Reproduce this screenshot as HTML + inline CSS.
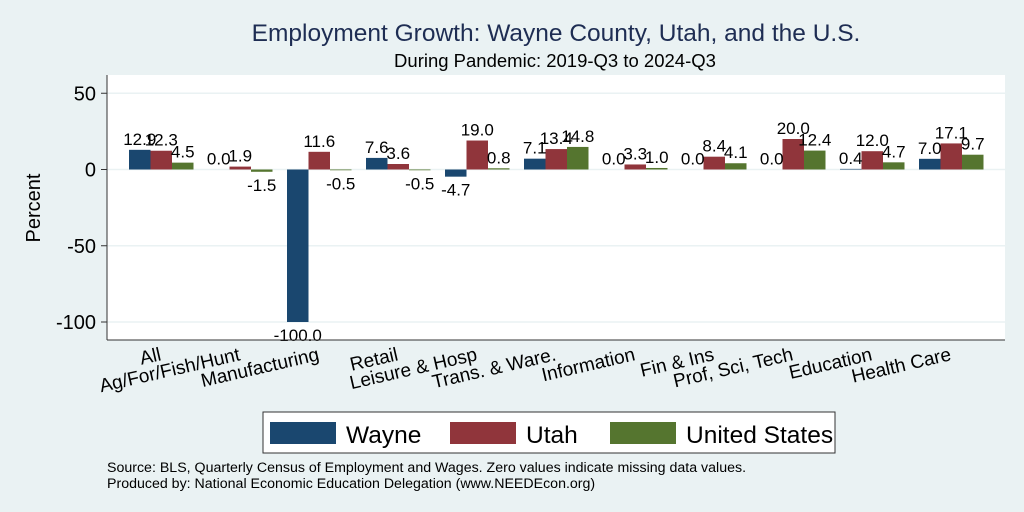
<!DOCTYPE html>
<html><head><meta charset="utf-8"><style>
body{margin:0;background:#eaf2f3;}
svg{display:block;font-family:"Liberation Sans",sans-serif;}
</style></head><body>
<svg id="c" width="1024" height="512" viewBox="0 0 1024 512">
<rect x="0" y="0" width="1024" height="512" fill="#eaf2f3"/>
<text x="556" y="41" font-size="24.5" fill="#1e2d53" text-anchor="middle">Employment Growth: Wayne County, Utah, and the U.S.</text>
<text x="555" y="67" font-size="18.5" fill="#000" text-anchor="middle">During Pandemic: 2019-Q3 to 2024-Q3</text>
<rect x="107" y="75" width="898" height="265" fill="#fff"/>
<g id="grid"></g>
<g id="bars"></g>
<g id="vals"></g>
<line x1="107" y1="75" x2="107" y2="340" stroke="#333" stroke-width="1"/>
<line x1="107" y1="340" x2="1005" y2="340" stroke="#333" stroke-width="1"/>
<g id="xl"></g>
<text transform="translate(40,208) rotate(-90)" font-size="20" text-anchor="middle">Percent</text>
<g>
<rect x="263" y="412" width="572" height="41" fill="#fff" stroke="#333" stroke-width="1"/>
<rect x="270" y="422" width="66" height="22" fill="#1a476f"/>
<text x="346" y="443" font-size="24.5">Wayne</text>
<rect x="450" y="422" width="66" height="22" fill="#90353b"/>
<text x="526" y="443" font-size="24.5">Utah</text>
<rect x="610" y="422" width="66" height="22" fill="#55752f"/>
<text x="686" y="443" font-size="24.5">United States</text>
</g>
<text x="107" y="472" font-size="14.2">Source: BLS, Quarterly Census of Employment and Wages. Zero values indicate missing data values.</text>
<text x="107" y="488" font-size="14.2">Produced by: National Economic Education Delegation (www.NEEDEcon.org)</text>
</svg>
<script>
const categories=["All","Ag/For/Fish/Hunt","Manufacturing","Retail","Leisure & Hosp","Trans. & Ware.","Information","Fin & Ins","Prof, Sci, Tech","Education","Health Care"];
const wayne=[12.9,0.0,-100.0,7.6,-4.7,7.1,0.0,0.0,0.0,0.4,7.0];
const utah=[12.3,1.9,11.6,3.6,19.0,13.4,3.3,8.4,20.0,12.0,17.1];
const us=[4.5,-1.5,-0.5,-0.5,0.8,14.8,1.0,4.1,12.4,4.7,9.7];
const yTicks=[50,0,-50,-100];
const seriesNames=["wayne","utah","us"];
const colors=["#1a476f","#90353b","#55752f"];
const NS="http://www.w3.org/2000/svg";
const y=v=>169.5-v*1.525;
const gx=i=>129+79*i;
const bw=21.5;
function mk(t,a,p){const e=document.createElementNS(NS,t);for(const k in a)e.setAttribute(k,a[k]);p.appendChild(e);return e;}
const grid=document.getElementById('grid'),bars=document.getElementById('bars'),vals=document.getElementById('vals'),xl=document.getElementById('xl');
const svg=document.getElementById('c');
yTicks.forEach(t=>{
  const l=mk('line',{x1:107,x2:1005,y1:y(t),y2:y(t),stroke:'#eaf2f3','stroke-width':1.5},grid);
  
  
  const tk=mk('line',{x1:101,x2:107,y1:y(t),y2:y(t),stroke:'#333'},svg);
  
  
  const tx=mk('text',{x:96,y:y(t)+7,'font-size':20,'text-anchor':'end'},svg);
  tx.textContent=t;
  
  
});
const series=[wayne,utah,us];
categories.forEach((c,i)=>{
  series.forEach((s,j)=>{
    const v=s[i],x=gx(i)+j*bw;
    const r=mk('rect',{x:x,y:Math.min(y(v),y(0)),width:bw,height:Math.abs(y(v)-y(0)),fill:colors[j]},bars);
    
    
    const ty=v<0?y(v)+19:y(v)-5;
    const t=mk('text',{x:x+bw/2,y:ty,'font-size':17,'text-anchor':'middle'},vals);
    t.textContent=v.toFixed(1);
    
    
  });
  const cx=gx(i)+33, ly=360;
  const t=mk('text',{x:cx,y:ly,'font-size':19,'text-anchor':'end',transform:`rotate(-13 ${cx} ${ly})`},xl);
  t.textContent=c;
  
  
});
</script>
</body></html>
